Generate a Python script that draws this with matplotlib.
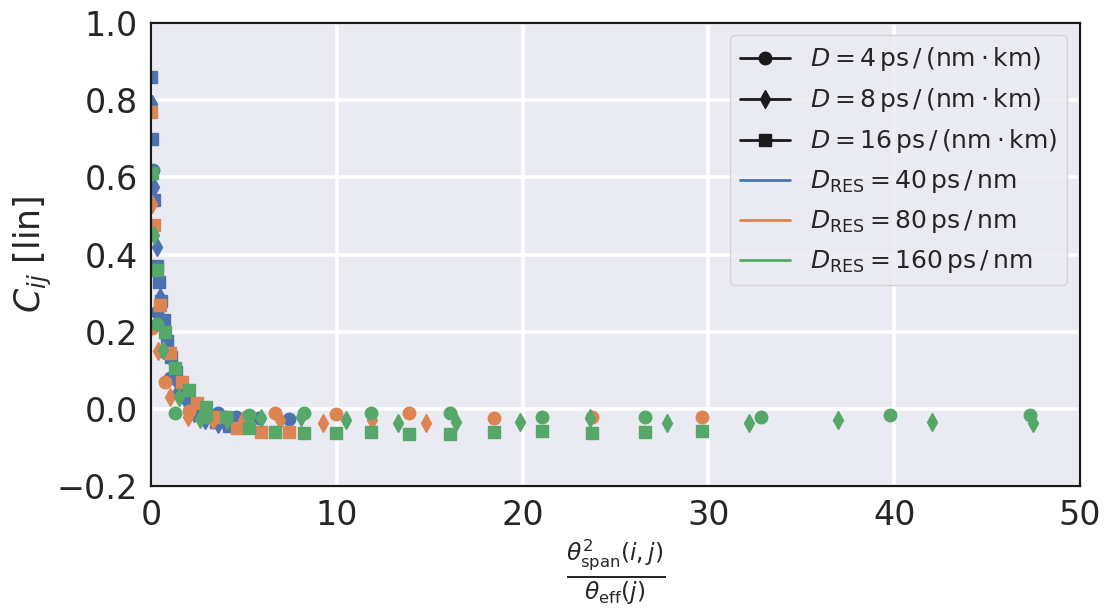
import matplotlib
matplotlib.use("Agg")
import matplotlib.pyplot as plt
from matplotlib.lines import Line2D
import seaborn as sns

# D_RES = 40 ps/nm (blue)
x_40_d4 = [0.10, 0.30, 0.60, 1.00, 1.50, 2.10, 2.80, 3.60, 4.60, 5.80, 7.43]
y_40_d4 = [0.62, 0.25, 0.15, 0.08, 0.04, 0.00, -0.02, -0.01, -0.02, -0.025, -0.026]
x_40_d8 = [0.04, 0.15, 0.30, 0.50, 0.75, 1.05, 1.40, 1.80, 2.30, 2.90, 3.60, 4.30]
y_40_d8 = [0.79, 0.575, 0.42, 0.29, 0.20, 0.13, 0.07, 0.03, -0.01, -0.03, -0.04, -0.035]
x_40_d16 = [0.02, 0.08, 0.18, 0.30, 0.43, 0.55, 0.70, 0.88, 1.10, 1.32, 1.60, 1.95, 2.40, 2.90, 3.50, 4.20]
y_40_d16 = [0.86, 0.70, 0.54, 0.37, 0.33, 0.28, 0.23, 0.175, 0.135, 0.095, 0.06, 0.03, 0.0, -0.02, -0.035, -0.045]

# D_RES = 80 ps/nm (orange)
x_80_d4 = [0.08, 0.74, 2.05, 4.02, 6.65, 9.94, 13.88, 18.48, 23.73, 29.65]
y_80_d4 = [0.21, 0.07, -0.005, -0.02, -0.011, -0.013, -0.011, -0.024, -0.02, -0.02]
x_80_d8 = [0.04, 0.37, 1.03, 2.01, 3.33, 4.97, 6.94, 9.24, 11.87, 14.82]
y_80_d8 = [0.53, 0.15, 0.03, -0.02, -0.03, -0.03, -0.03, -0.036, -0.03, -0.036]
x_80_d16 = [0.02, 0.18, 0.51, 1.00, 1.66, 2.48, 3.47, 4.62, 5.93, 7.41]
y_80_d16 = [0.77, 0.477, 0.27, 0.145, 0.07, 0.015, -0.02, -0.05, -0.06, -0.06]

# D_RES = 160 ps/nm (green)
x_160_d4 = [0.33, 1.31, 2.96, 5.26, 8.21, 11.83, 16.10, 21.02, 26.61, 32.85, 39.75, 47.30]
y_160_d4 = [0.22, -0.01, -0.02, -0.016, -0.012, -0.012, -0.012, -0.02, -0.022, -0.02, -0.017, -0.015]
x_160_d8 = [0.16, 0.66, 1.48, 2.63, 4.11, 5.91, 8.05, 10.51, 13.30, 16.43, 19.87,
            23.65, 27.76, 32.19, 36.95, 42.05, 47.47]
y_160_d8 = [0.45, 0.153, 0.03, -0.026, -0.03, -0.024, -0.02, -0.03, -0.036, -0.033, -0.033,
            -0.025, -0.037, -0.036, -0.03, -0.033, -0.037]
x_160_d16 = [0.08, 0.33, 0.74, 1.31, 2.05, 2.96, 4.02, 5.26, 6.65, 8.21, 9.94, 11.83,
             13.88, 16.10, 18.48, 21.02, 23.73, 26.61, 29.65]
y_160_d16 = [0.61, 0.36, 0.20, 0.106, 0.05, 0.005, -0.02, -0.05, -0.06, -0.063, -0.063, -0.06,
             -0.066, -0.065, -0.06, -0.057, -0.062, -0.06, -0.057]

d_labels = [r'$D = 4\,\mathrm{ps}\,/\,(\mathrm{nm}\cdot\mathrm{km})$',
            r'$D = 8\,\mathrm{ps}\,/\,(\mathrm{nm}\cdot\mathrm{km})$',
            r'$D = 16\,\mathrm{ps}\,/\,(\mathrm{nm}\cdot\mathrm{km})$']
dres_labels = [r'$D_{\mathrm{RES}} = 40\,\mathrm{ps}\,/\,\mathrm{nm}$',
               r'$D_{\mathrm{RES}} = 80\,\mathrm{ps}\,/\,\mathrm{nm}$',
               r'$D_{\mathrm{RES}} = 160\,\mathrm{ps}\,/\,\mathrm{nm}$']

sns.set_theme(style='darkgrid')
plt.rcParams['font.family'] = ['DejaVu Sans']
plt.rcParams['mathtext.fontset'] = 'dejavusans'

colors = ['#4C72B0', '#DD8452', '#55A868']
markers = ['o', 'd', 's']

series = [
    [(x_40_d4, y_40_d4), (x_40_d8, y_40_d8), (x_40_d16, y_40_d16)],
    [(x_80_d4, y_80_d4), (x_80_d8, y_80_d8), (x_80_d16, y_80_d16)],
    [(x_160_d4, y_160_d4), (x_160_d8, y_160_d8), (x_160_d16, y_160_d16)],
]

fig = plt.figure(figsize=(11.12, 6.16), dpi=100)
ax = fig.add_axes([0.1358, 0.211, 0.9712 - 0.1358, 0.9627 - 0.211])

for c, group in zip(colors, series):
    for m, (xs, ys) in zip(markers, group):
        ax.plot(xs, ys, linestyle='none', marker=m, markersize=9, color=c,
                markeredgewidth=1)

ax.set_xlim(0, 50)
ax.set_ylim(-0.2, 1.0)
ax.set_xticks([0, 10, 20, 30, 40, 50])
ax.set_yticks([-0.2, 0.0, 0.2, 0.4, 0.6, 0.8, 1.0])
ax.set_yticklabels(['\u22120.2', '0.0', '0.2', '0.4', '0.6', '0.8', '1.0'])
ax.tick_params(labelsize=24, colors='#262626')
ax.grid(True, color='white', linewidth=2.6)
for sp in ax.spines.values():
    sp.set_visible(True)
    sp.set_color('#1a1a1a')
    sp.set_linewidth(1.6)

ax.set_ylabel(r'$C_{ij}$ [lin]', fontsize=25, color='#262626', labelpad=2)
ax.set_xlabel(r'$\frac{\theta_{\mathrm{span}}^2(i,j)}{\theta_{\mathrm{eff}}(j)}$',
              fontsize=24, color='#262626', labelpad=4)

handles = []
for m, lab in zip(markers, d_labels):
    handles.append(Line2D([0], [0], color='#1a1a1a', marker=m, markersize=9,
                          linewidth=2, label=lab))
for c, lab in zip(colors, dres_labels):
    handles.append(Line2D([0], [0], color=c, linewidth=2, label=lab))
leg = ax.legend(handles=handles, loc='upper right', fontsize=18,
                handlelength=2.0, labelspacing=0.52, borderpad=0.4,
                handletextpad=0.8, framealpha=0.8)
for t in leg.get_texts():
    t.set_color('#262626')

fig.savefig('out.png', dpi=100)
